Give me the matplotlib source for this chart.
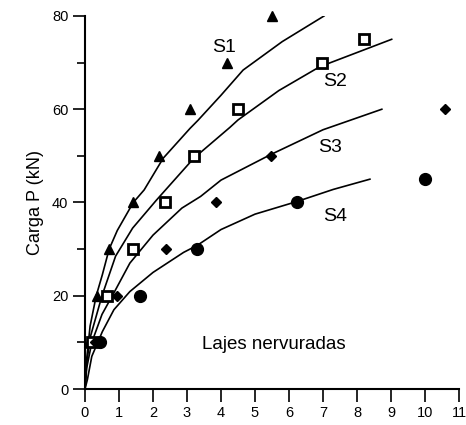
import matplotlib
matplotlib.use('Agg')
import matplotlib.pyplot as plt
from matplotlib.ticker import MultipleLocator

# measured points (deslocamento, carga)
s1_x = [0.12, 0.34, 0.71, 1.42, 2.18, 3.09, 4.18, 5.5]
s1_y = [10, 20, 30, 40, 50, 60, 70, 80]
s2_x = [0.2, 0.64, 1.4, 2.35, 3.2, 4.5, 6.97, 8.22]
s2_y = [10, 20, 30, 40, 50, 60, 70, 75]
s3_x = [0.3, 0.93, 2.38, 3.85, 5.46, 10.6]
s3_y = [10, 20, 30, 40, 50, 60]
s4_x = [0.44, 1.62, 3.28, 6.24, 10.0]
s4_y = [10, 20, 30, 40, 45]

# fitted curves
c1_x = [0, 0.05, 0.15, 0.33, 0.51, 0.71, 0.95, 1.42, 1.74, 2.3, 3.09, 3.32, 4.0, 4.65, 5.8, 7.03]
c1_y = [0, 6.5, 13.5, 20, 24.5, 30, 34, 40, 42.7, 49.5, 55.9, 57.6, 63, 68.4, 74.5, 80]
c2_x = [0, 0.05, 0.15, 0.5, 0.9, 1.4, 2.1, 3.2, 4.26, 4.5, 5.7, 6.9, 9.02]
c2_y = [0, 5.5, 11, 20, 28.5, 34.5, 40.5, 49.5, 56.1, 57.7, 64, 69.1, 75]
c3_x = [0, 0.05, 0.2, 0.5, 0.9, 1.32, 2.0, 2.85, 3.4, 4.0, 5.44, 7.0, 8.73]
c3_y = [0, 4.5, 10, 16, 21.3, 27.0, 33.0, 38.8, 41.3, 44.8, 50.2, 55.6, 60]
c4_x = [0, 0.07, 0.2, 0.51, 0.85, 1.32, 2.0, 2.9, 3.3, 4.0, 5.0, 6.23, 7.3, 8.38]
c4_y = [0, 2, 7, 12.3, 17.0, 20.9, 25.0, 29.3, 30.8, 34.2, 37.5, 40.2, 42.8, 45]

plt.rcParams['font.family'] = ['Liberation Sans', 'DejaVu Sans']

fig = plt.figure(figsize=(4.66, 4.25), dpi=100)
ax = fig.add_axes([0.1824, 0.0847, 0.8026, 0.8777])

for cx, cy in [(c1_x, c1_y), (c2_x, c2_y), (c3_x, c3_y), (c4_x, c4_y)]:
    ax.plot(cx, cy, color='black', lw=1.2, zorder=2)

ax.plot(s1_x, s1_y, ls='none', marker='^', ms=6.5, color='black', clip_on=False, zorder=3)
ax.plot(s2_x, s2_y, ls='none', marker='s', ms=6.5, mfc='white', mec='black', mew=2, clip_on=False, zorder=3)
ax.plot(s3_x, s3_y, ls='none', marker='D', ms=5.5, color='black', clip_on=False, zorder=3)
ax.plot(s4_x, s4_y, ls='none', marker='o', ms=8.5, color='black', clip_on=False, zorder=3)

ax.text(4.09, 73.3, 'S1', fontsize=14, ha='center', va='center')
ax.text(7.35, 65.9, 'S2', fontsize=14, ha='center', va='center')
ax.text(7.2, 51.8, 'S3', fontsize=14, ha='center', va='center')
ax.text(7.37, 37.0, 'S4', fontsize=14, ha='center', va='center')
ax.text(5.56, 9.6, 'Lajes nervuradas', fontsize=13.5, ha='center', va='center')

ax.set_xlim(0, 11)
ax.set_ylim(0, 80)
ax.xaxis.set_major_locator(MultipleLocator(1))
ax.yaxis.set_major_locator(MultipleLocator(20))
ax.yaxis.set_minor_locator(MultipleLocator(10))
ax.tick_params(axis='both', which='major', direction='out', length=9, width=1.2, labelsize=10.5, pad=3)
ax.tick_params(axis='y', which='minor', direction='out', length=6, width=1.2)
ax.spines['top'].set_visible(False)
ax.spines['right'].set_visible(False)
ax.spines['left'].set_linewidth(1.5)
ax.spines['bottom'].set_linewidth(1.5)
ax.set_ylabel('Carga P (kN)', fontsize=13, labelpad=6)

plt.savefig('out.png', dpi=100)
